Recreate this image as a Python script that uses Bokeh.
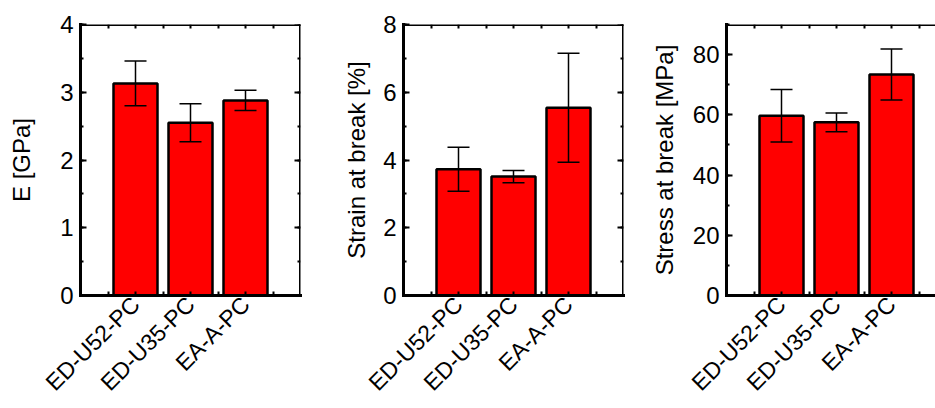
import math
from bokeh.plotting import figure
from bokeh.models import (ColumnDataSource, Range1d, FixedTicker, SingleIntervalTicker,
                          LinearAxis, Whisker, TeeHead, CustomLabelingPolicy)
from bokeh.layouts import row
from bokeh.embed import file_html
from bokeh.resources import INLINE

# ---- data ----
categories = ["ED-U52-PC", "ED-U35-PC", "EA-A-PC"]
modulus_gpa = [3.13, 2.55, 2.88]
modulus_err = [0.33, 0.28, 0.15]
strain_pct = [3.73, 3.51, 5.54]
strain_err = [0.65, 0.18, 1.61]
stress_mpa = [59.7, 57.5, 73.4]
stress_err = [8.7, 3.1, 8.5]

FONT = "Liberation Sans"
FS = "24px"
FULL_FRAME_W = 220   # px for the x span 0..n+1
HEIGHT = 408

NO_LABELS = """
for (let i = 0; i < indices.size; i++) { indices.unset(i) }
return indices
"""


def style_axis(ax, tick_in_major=6, tick_in_minor=3):
    ax.axis_line_width = 3
    ax.axis_line_color = "black"
    ax.axis_line_cap = "square"
    ax.major_tick_in = tick_in_major
    ax.major_tick_out = 0
    ax.minor_tick_in = tick_in_minor
    ax.minor_tick_out = 0
    ax.major_tick_line_width = 2
    ax.minor_tick_line_width = 2
    ax.major_tick_line_color = "black"
    ax.minor_tick_line_color = "black"
    ax.major_label_text_font = FONT
    ax.major_label_text_font_size = FS
    ax.major_label_text_color = "black"
    ax.axis_label_text_font = FONT
    ax.axis_label_text_font_size = FS
    ax.axis_label_text_font_style = "normal"
    ax.axis_label_text_color = "black"


def panel(values, errors, y_end, y_step, title, width, min_left, min_right,
          frame_w, label_standoff, right_axis=True):
    n = len(categories)
    xs = [i + 1 for i in range(n)]
    x_end = (n + 1) * frame_w / FULL_FRAME_W
    src = ColumnDataSource(dict(
        x=xs, top=values,
        upper=[v + e for v, e in zip(values, errors)],
        lower=[v - e for v, e in zip(values, errors)],
    ))
    p = figure(width=width, height=HEIGHT, x_range=Range1d(0, x_end),
               y_range=Range1d(0, y_end), output_backend="svg",
               toolbar_location=None, min_border_left=min_left,
               min_border_right=min_right, min_border_top=24,
               min_border_bottom=113, outline_line_color=None,
               background_fill_color="white", border_fill_color="white")
    p.xgrid.visible = False
    p.ygrid.visible = False

    xticker = FixedTicker(ticks=xs, minor_ticks=[x - 0.5 for x in xs] + [xs[-1] + 0.5])
    yticker = SingleIntervalTicker(interval=y_step, num_minor_ticks=2)

    xa = p.xaxis[0]
    xa.ticker = xticker
    xa.major_label_overrides = {x: c for x, c in zip(xs, categories)}
    xa.major_label_orientation = math.pi / 4
    style_axis(xa, 4, 4)
    xa.major_label_text_font_size = "23px"
    xa.major_label_standoff = 5

    ya = p.yaxis[0]
    ya.ticker = yticker
    ya.axis_label = title
    style_axis(ya)
    ya.major_label_standoff = 7
    ya.axis_label_standoff = label_standoff

    top = LinearAxis(ticker=xticker, fixed_location=y_end,
                     major_label_policy=CustomLabelingPolicy(code=NO_LABELS))
    style_axis(top, 4, 4)
    p.add_layout(top, "above")

    if right_axis:
        ra = LinearAxis(ticker=yticker, fixed_location=x_end,
                        major_label_policy=CustomLabelingPolicy(code=NO_LABELS))
        style_axis(ra)
        p.add_layout(ra, "right")

    p.vbar(x="x", top="top", bottom=0, width=0.8, source=src,
           fill_color="#ff0000", line_color="black", line_width=2.5)
    w = Whisker(base="x", upper="upper", lower="lower", source=src,
                line_color="black", line_width=1.5, level="overlay",
                upper_head=TeeHead(size=22, line_width=1.5, line_color="black"),
                lower_head=TeeHead(size=22, line_width=1.5, line_color="black"))
    p.add_layout(w)
    return p


p1 = panel(modulus_gpa, modulus_err, 4, 1, "E [GPa]", 320, 80, 20, 220, 22)
p2 = panel(strain_pct, strain_err, 8, 2, "Strain at break [%]", 323, 83, 20, 220, 10)
p3 = panel(stress_mpa, stress_err, 90, 20, "Stress at break [MPa]", 292, 83, 0, 209, 12,
           right_axis=False)

layout = row(p1, p2, p3)
open("out.html", "w").write(file_html(layout, INLINE))
